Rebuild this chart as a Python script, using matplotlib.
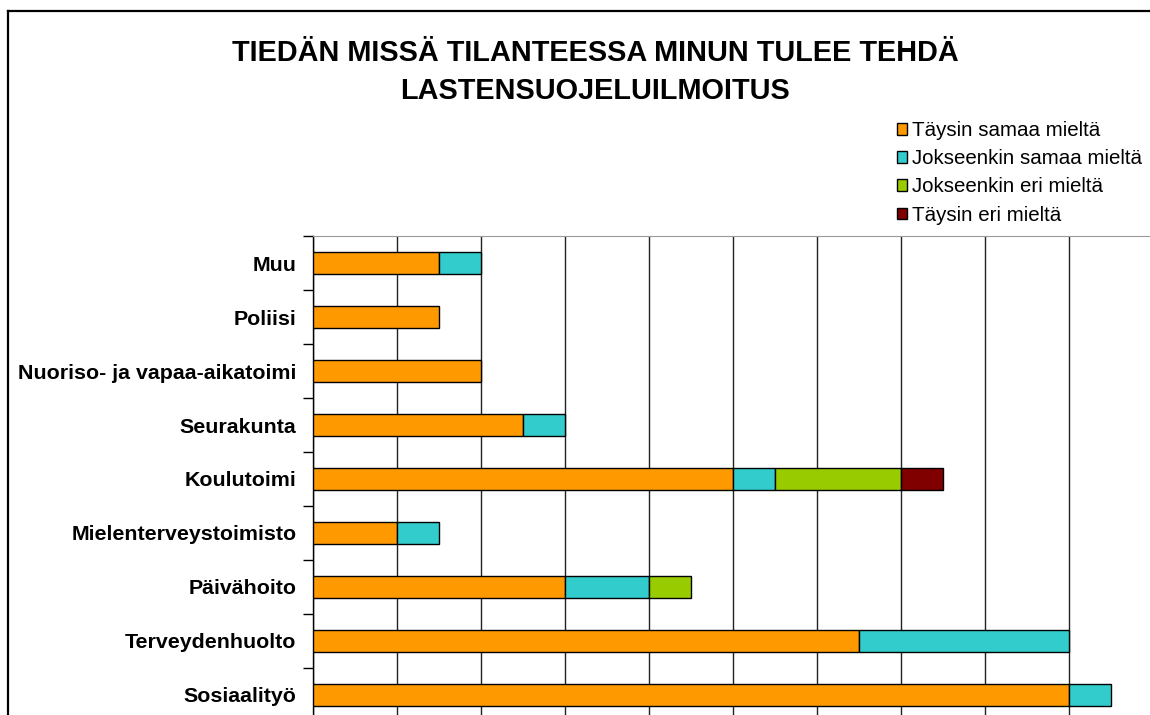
import numpy as np
import matplotlib.pyplot as plt
from matplotlib.lines import Line2D

plt.rcParams['font.family'] = ['Liberation Sans', 'DejaVu Sans']

# Categories, bottom to top (as Excel draws them)
categories = ['Sosiaalityö', 'Terveydenhuolto', 'Päivähoito', 'Mielenterveystoimisto',
              'Koulutoimi', 'Seurakunta', 'Nuoriso- ja vapaa-aikatoimi', 'Poliisi', 'Muu']
series_names = ['Täysin samaa mieltä', 'Jokseenkin samaa mieltä',
                'Jokseenkin eri mieltä', 'Täysin eri mieltä']
taysin_samaa = [18, 13, 6, 2, 10, 5, 4, 3, 3]
jokseenkin_samaa = [1, 5, 2, 1, 1, 1, 0, 0, 1]
jokseenkin_eri = [0, 0, 1, 0, 3, 0, 0, 0, 0]
taysin_eri = [0, 0, 0, 0, 1, 0, 0, 0, 0]
colors = ['#FF9900', '#33CCCC', '#99CC00', '#800000']
title = 'TIEDÄN MISSÄ TILANTEESSA MINUN TULEE TEHDÄ\nLASTENSUOJELUILMOITUS'

fig = plt.figure(figsize=(11.5, 7.15), dpi=100)
W, H = 1150, 715

# Plot area runs past the bottom/right edge, like the cropped original
ax = fig.add_axes([313 / W, 1 - 722 / H, 840 / W, (722 - 236) / H])

y = np.arange(len(categories))
left = np.zeros(len(categories))
handles = []
for name, vals, col in zip(series_names, [taysin_samaa, jokseenkin_samaa, jokseenkin_eri, taysin_eri], colors):
    vals = np.array(vals, dtype=float)
    m = vals > 0
    ax.barh(y[m], vals[m], left=left[m], height=0.39, color=col,
            edgecolor='black', linewidth=1, zorder=3)
    left += vals
    handles.append(plt.Rectangle((0, 0), 1, 1, facecolor=col, edgecolor='black', linewidth=1))

ax.set_xlim(0, 20)
ax.set_ylim(-0.5, len(categories) - 0.5)
ax.set_xticks(np.arange(0, 21, 2))
ax.xaxis.grid(True, color='#222222', linewidth=1, zorder=0)
ax.tick_params(axis='x', length=0, labelbottom=False)

# ticks on category boundaries, labels at centres
ax.set_yticks(np.arange(-0.5, len(categories), 1))
ax.set_yticklabels([])
ax.set_yticks(y, minor=True)
ax.set_yticklabels(categories, minor=True, fontsize=15.4, fontweight='bold')
ax.tick_params(axis='y', which='major', length=7, width=1, direction='out', color='black')
ax.tick_params(axis='y', which='minor', length=0, pad=12)

for s in ['right', 'bottom']:
    ax.spines[s].set_visible(False)
ax.spines['top'].set_color('#999999')
ax.spines['left'].set_color('black')
ax.spines['left'].set_linewidth(1)

fig.text(595 / W, 1 - 72 / H, title, ha='center', va='center', fontsize=20.8,
         fontweight='bold', linespacing=1.45)

fig.legend(handles, series_names, loc='upper left',
           bbox_to_anchor=(897 / W, 1 - 121 / H), frameon=False, fontsize=14.8,
           handlelength=0.5, handleheight=0.5, handletextpad=0.25,
           labelspacing=0.45, borderpad=0, borderaxespad=0)

# outer chart frame (left and top edges visible)
fig.add_artist(Line2D([8 / W, 8 / W], [0, 1 - 11 / H], color='black', linewidth=1.6,
                      transform=fig.transFigure))
fig.add_artist(Line2D([8 / W, 1], [1 - 11 / H, 1 - 11 / H], color='black', linewidth=1.6,
                      transform=fig.transFigure))

fig.savefig('out.png', dpi=100)
